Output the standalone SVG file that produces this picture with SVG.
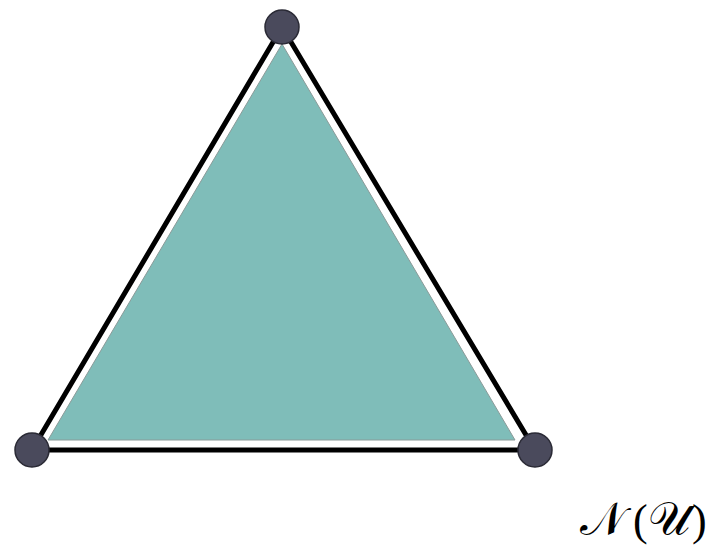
<svg xmlns="http://www.w3.org/2000/svg" width="706" height="547" viewBox="0 0 706 547">
<style>
.edge{stroke:#000;stroke-width:5;fill:none;stroke-linecap:round}
.face{fill:#7fbdb9;stroke:#8a9a98;stroke-width:1}
.vtx{fill:#4a4a5c;stroke:#2a2a35;stroke-width:1.5}
.lbl{font-family:"DejaVu Serif","Liberation Serif",serif;font-size:47px;fill:#000}
.par{font-family:"Liberation Serif",serif;font-size:44px;fill:#000}
</style>
<g id="face"><polygon class="face" points="282,44 48,440 515,440"/></g>
<g id="connectors">
<line class="edge" x1="282" y1="27" x2="32" y2="450"/>
<line class="edge" x1="32" y1="450" x2="535" y2="450"/>
<line class="edge" x1="535" y1="450" x2="282" y2="27"/>
</g>
<g id="v1"><circle class="vtx" cx="282" cy="27" r="17"/></g>
<g id="v2"><circle class="vtx" cx="32" cy="450" r="17"/></g>
<g id="v3"><circle class="vtx" cx="535" cy="450" r="17"/></g>
<g id="label"><text y="535"><tspan class="lbl" x="580">𝒩</tspan><tspan class="par" x="633">(</tspan><tspan class="lbl" x="648">𝒰</tspan><tspan class="par" x="692">)</tspan></text></g>
</svg>
